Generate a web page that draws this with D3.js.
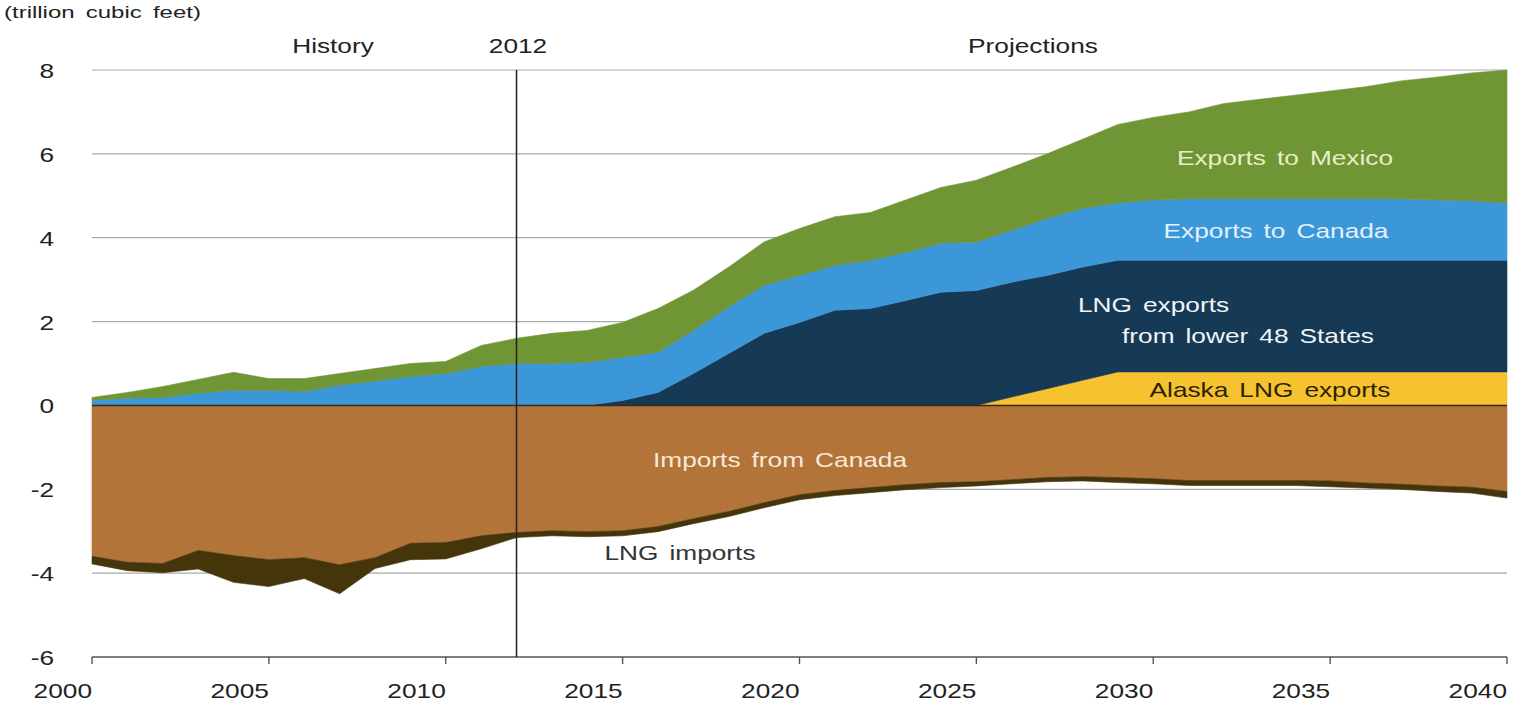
<!DOCTYPE html>
<html>
<head>
<meta charset="utf-8">
<script src="https://cdn.jsdelivr.net/npm/d3@7"></script>
<style>
  html, body { margin: 0; padding: 0; background: #fff; }
  svg { display: block; font-family: "Liberation Sans", Arial, sans-serif; }
</style>
</head>
<body>
<svg id="chart" width="1518" height="703"></svg>
<script>
// U.S. natural gas trade, trillion cubic feet (history to 2012, projections after)
const years = d3.range(2000, 2041);

const alaskaLng = [
  0,0,0,0,0,0,0,0,0,0,0,0,0,
  0,0,0,0,0,0,0,0,0,0,0,0,0,
  0.2,0.4,0.6,0.8,0.8,0.8,0.8,0.8,0.8,0.8,0.8,0.8,0.8,0.8,0.8
];
const lngLower48 = [
  0,0,0,0,0,0,0,0,0,0,0,0,0,
  0,0,0.12,0.31,0.76,1.24,1.72,1.98,2.27,2.31,2.5,2.7,2.74,
  2.74,2.7,2.7,2.66,2.66,2.66,2.66,2.66,2.66,2.66,2.66,2.66,2.66,2.66,2.66
];
const exportsCanada = [
  0.12,0.17,0.19,0.29,0.36,0.36,0.33,0.48,0.58,0.69,0.76,0.93,1.0,
  1.0,1.03,1.03,0.96,1.03,1.11,1.15,1.12,1.07,1.15,1.15,1.17,1.16,
  1.24,1.36,1.4,1.37,1.44,1.47,1.47,1.47,1.47,1.47,1.47,1.47,1.44,1.42,1.37
];
const exportsMexico = [
  0.07,0.14,0.26,0.33,0.43,0.28,0.31,0.28,0.30,0.31,0.29,0.5,0.6,
  0.72,0.76,0.83,1.04,0.96,0.95,1.03,1.12,1.16,1.14,1.25,1.33,1.47,
  1.5,1.54,1.65,1.87,1.97,2.07,2.27,2.37,2.47,2.57,2.67,2.81,2.93,3.05,3.17
];
const importsCanada = [
  -3.6,-3.74,-3.77,-3.46,-3.58,-3.68,-3.63,-3.8,-3.63,-3.29,-3.27,-3.11,-3.03,
  -2.99,-3.01,-2.99,-2.89,-2.70,-2.53,-2.32,-2.13,-2.03,-1.96,-1.89,-1.84,-1.82,
  -1.77,-1.72,-1.70,-1.72,-1.75,-1.79,-1.79,-1.79,-1.79,-1.80,-1.85,-1.88,-1.92,-1.95,-2.05
];
const lngImports = [
  -0.18,-0.2,-0.22,-0.44,-0.64,-0.64,-0.5,-0.69,-0.26,-0.39,-0.39,-0.31,-0.12,
  -0.12,-0.12,-0.12,-0.12,-0.12,-0.12,-0.12,-0.12,-0.12,-0.12,-0.12,-0.12,-0.1,
  -0.1,-0.1,-0.1,-0.12,-0.12,-0.12,-0.12,-0.12,-0.12,-0.14,-0.12,-0.12,-0.13,-0.14,-0.16
];

const yTicks = [8, 6, 4, 2, 0, -2, -4, -6];
const xTicks = [2000, 2005, 2010, 2015, 2020, 2025, 2030, 2035, 2040];

const seriesKeys = ["alaska", "lng48", "canadaExp", "mexicoExp", "canadaImp", "lngImp"];
const seriesColors = {
  alaska: "#f6c22f",
  lng48: "#163a56",
  canadaExp: "#3b97d8",
  mexicoExp: "#6f9535",
  canadaImp: "#b3743a",
  lngImp: "#45350b"
};

const rows = years.map((yr, i) => ({
  year: yr,
  alaska: alaskaLng[i],
  lng48: lngLower48[i],
  canadaExp: exportsCanada[i],
  mexicoExp: exportsMexico[i],
  canadaImp: importsCanada[i],
  lngImp: lngImports[i]
}));

const svg = d3.select("#chart");
const x = d3.scaleLinear().domain([2000, 2040]).range([92, 1507]);
const y = d3.scaleLinear().domain([-6, 8]).range([657, 70]);

const SX = 1.25; // horizontal text stretch

function label(txt, px, py, opts = {}) {
  svg.append("text")
    .attr("transform", `translate(${px},${py}) scale(${opts.sx ?? SX},1)`)
    .attr("text-anchor", opts.anchor || "middle")
    .attr("font-size", opts.size || 21)
    .attr("fill", opts.fill || "#222")
    .attr("word-spacing", opts.ws || 3)
    .text(txt);
}

// gridlines
svg.append("g")
  .selectAll("line")
  .data(yTicks.filter(v => v !== 0 && v !== -6))
  .join("line")
  .attr("x1", x(2000)).attr("x2", x(2040))
  .attr("y1", d => y(d)).attr("y2", d => y(d))
  .attr("stroke", "#a9a9a9").attr("stroke-width", 1.2);

// stacked areas
const stack = d3.stack().keys(seriesKeys).offset(d3.stackOffsetDiverging);
const layers = stack(rows);
const area = d3.area()
  .x(d => x(d.data.year))
  .y0(d => y(d[0]))
  .y1(d => y(d[1]));

svg.append("g")
  .selectAll("path")
  .data(layers)
  .join("path")
  .attr("d", area)
  .attr("fill", d => seriesColors[d.key])
  .attr("stroke", d => seriesColors[d.key])
  .attr("stroke-width", 0.6);

// zero line
svg.append("line")
  .attr("x1", x(2000)).attr("x2", x(2040))
  .attr("y1", y(0)).attr("y2", y(0))
  .attr("stroke", "#3a2a10").attr("stroke-width", 1.6);

// x axis
const xAxis = svg.append("g").attr("transform", `translate(0,${y(-6)})`);
xAxis.append("line")
  .attr("x1", x(2000)).attr("x2", x(2040))
  .attr("stroke", "#555").attr("stroke-width", 1.4);
xAxis.selectAll("line.tick")
  .data(xTicks)
  .join("line")
  .attr("class", "tick")
  .attr("x1", d => x(d)).attr("x2", d => x(d))
  .attr("y1", 0).attr("y2", 7)
  .attr("stroke", "#555").attr("stroke-width", 1.4);
xTicks.forEach(t => label(String(t), x(t), y(-6) + 41, { anchor: "end" }));

// y labels
yTicks.forEach(t => label(String(t), 54, y(t) + 8, { anchor: "end" }));

// 2012 divider
svg.append("line")
  .attr("x1", x(2012.0)).attr("x2", x(2012.0))
  .attr("y1", y(8)).attr("y2", y(-6))
  .attr("stroke", "#222").attr("stroke-width", 1.5);

// headings
label("(trillion cubic feet)", 4, 18, { anchor: "start", size: 16, sx: 1.5, ws: 3 });
label("History", 333, 53);
label("2012", 518, 53);
label("Projections", 1033, 53);

// series labels
label("Exports to Mexico", 1285, 165, { fill: "#e6efc4" });
label("Exports to Canada", 1276, 238, { fill: "#e2f1fd" });
label("LNG exports", 1078, 312, { anchor: "start", fill: "#f2f4f6" });
label("from lower 48 States", 1122, 343, { anchor: "start", fill: "#f2f4f6" });
label("Alaska LNG exports", 1270, 397, { fill: "#2b2205" });
label("Imports from Canada", 780, 467, { fill: "#f7ead9" });
label("LNG imports", 680, 560, { fill: "#333" });
</script>
</body>
</html>
